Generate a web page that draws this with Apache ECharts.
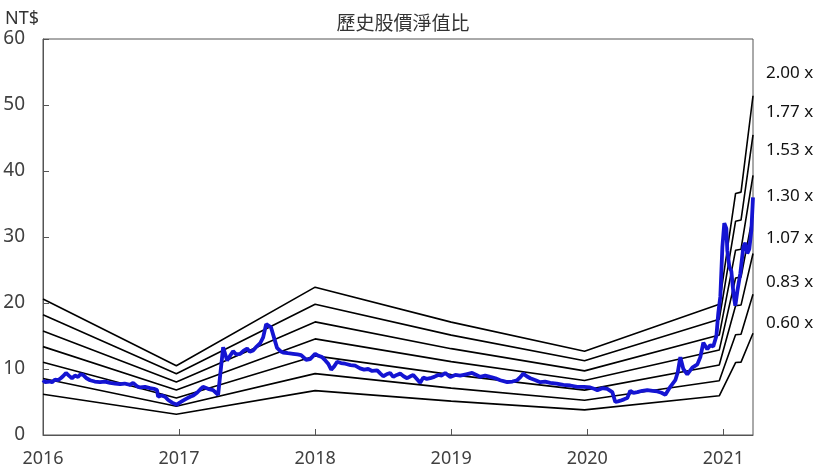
<!DOCTYPE html>
<html>
<head>
<meta charset="utf-8">
<style>
  html, body { margin: 0; padding: 0; background: #fff; }
  #chart { width: 820px; height: 476px; }
</style>
</head>
<body>
<div id="chart"></div>
<script src="https://cdn.jsdelivr.net/npm/echarts@6/dist/echarts.min.js"></script>
<script>
// book value per share knots (year, NT$)
var bvpsDates  = [2016.0, 2016.98, 2018.0, 2019.0, 2019.98, 2020.97, 2021.09, 2021.13, 2021.218];
var bvpsValues = [10.3,   5.25,    11.2,   8.55,   6.35,    9.9,     18.3,    18.4,    25.7];

// P/B multiples of the band lines
var multiples = [0.60, 0.83, 1.07, 1.30, 1.53, 1.77, 2.00];
var bandLabels = ['2.00 x', '1.77 x', '1.53 x', '1.30 x', '1.07 x', '0.83 x', '0.60 x'];

// share price (year, NT$)
var priceDates = [
  2016.000, 2016.015, 2016.029, 2016.048, 2016.066, 2016.088, 2016.110, 2016.130, 2016.147, 2016.169,
  2016.190, 2016.213, 2016.235, 2016.257, 2016.275, 2016.294, 2016.320, 2016.346, 2016.380, 2016.419,
  2016.455, 2016.493, 2016.530, 2016.566, 2016.600, 2016.640, 2016.662, 2016.690, 2016.713, 2016.750,
  2016.787, 2016.815, 2016.838, 2016.846, 2016.870, 2016.897, 2016.920, 2016.949, 2016.985, 2017.005,
  2017.029, 2017.055, 2017.081, 2017.105, 2017.132, 2017.155, 2017.176, 2017.213, 2017.250, 2017.287,
  2017.324, 2017.353, 2017.375, 2017.397, 2017.420, 2017.449, 2017.475, 2017.500, 2017.520, 2017.544,
  2017.570, 2017.596, 2017.618, 2017.640, 2017.654, 2017.676, 2017.700, 2017.720, 2017.745, 2017.765,
  2017.800, 2017.838, 2017.870, 2017.897, 2017.934, 2017.963, 2018.000, 2018.025, 2018.051, 2018.075,
  2018.096, 2018.118, 2018.140, 2018.162, 2018.190, 2018.221, 2018.260, 2018.294, 2018.330, 2018.360,
  2018.390, 2018.419, 2018.456, 2018.480, 2018.500, 2018.525, 2018.551, 2018.574, 2018.600, 2018.625,
  2018.650, 2018.676, 2018.700, 2018.721, 2018.772, 2018.794, 2018.820, 2018.846, 2018.875, 2018.904,
  2018.930, 2018.956, 2018.993, 2019.030, 2019.066, 2019.110, 2019.154, 2019.185, 2019.213, 2019.250,
  2019.287, 2019.325, 2019.360, 2019.412, 2019.450, 2019.485, 2019.510, 2019.529, 2019.555, 2019.581,
  2019.620, 2019.654, 2019.690, 2019.728, 2019.775, 2019.824, 2019.875, 2019.926, 2019.975, 2020.022,
  2020.050, 2020.074, 2020.110, 2020.147, 2020.184, 2020.206, 2020.225, 2020.243, 2020.270, 2020.294,
  2020.316, 2020.340, 2020.368, 2020.405, 2020.441, 2020.480, 2020.515, 2020.545, 2020.574, 2020.610,
  2020.647, 2020.665, 2020.684, 2020.706, 2020.735, 2020.772, 2020.809, 2020.831, 2020.853, 2020.882,
  2020.904, 2020.926, 2020.949, 2020.963, 2020.978, 2020.993, 2021.007, 2021.022, 2021.029, 2021.044,
  2021.059, 2021.074, 2021.088, 2021.103, 2021.125, 2021.147, 2021.162, 2021.176, 2021.191, 2021.206,
  2021.218
];
var priceValues = [
  8.3, 8.0, 7.8, 8.1, 8.0, 8.4, 8.3, 8.6, 8.9, 9.4,
  9.0, 8.6, 9.0, 8.8, 9.2, 9.1, 8.6, 8.3, 8.1, 8.0,
  8.1, 7.9, 7.8, 7.7, 7.8, 7.6, 7.9, 7.4, 7.2, 7.3,
  7.1, 7.0, 6.8, 5.8, 6.0, 5.8, 5.3, 4.9, 4.6, 4.9,
  5.2, 5.5, 5.8, 6.0, 6.4, 6.9, 7.3, 7.0, 6.8, 6.1,
  13.3, 11.3, 12.0, 12.7, 12.2, 12.3, 12.8, 13.1, 12.6, 12.8,
  13.4, 13.9, 14.8, 16.8, 17.0, 16.3, 14.6, 13.2, 12.7, 12.5,
  12.4, 12.3, 12.2, 12.1, 11.4, 11.5, 12.3, 12.0, 11.8, 11.3,
  10.8, 9.9, 10.4, 11.1, 10.9, 10.8, 10.6, 10.5, 10.1, 9.9,
  10.0, 9.7, 9.8, 9.3, 8.9, 9.2, 9.4, 8.8, 9.1, 9.3,
  8.9, 8.6, 8.9, 9.1, 7.9, 8.7, 8.5, 8.6, 8.8, 9.1,
  9.0, 9.4, 8.8, 9.1, 9.0, 9.2, 9.4, 9.1, 8.8, 9.0,
  8.8, 8.6, 8.3, 8.0, 8.1, 8.3, 8.8, 9.3, 8.9, 8.6,
  8.3, 8.0, 8.1, 7.9, 7.8, 7.6, 7.5, 7.3, 7.3, 7.2,
  7.0, 6.8, 7.1, 7.0, 6.5, 5.0, 5.1, 5.2, 5.4, 5.6,
  6.7, 6.4, 6.5, 6.7, 6.8, 6.7, 6.6, 6.4, 6.1, 7.3,
  8.3, 9.5, 11.8, 10.0, 9.2, 10.2, 10.7, 11.8, 14.0, 13.0,
  13.6, 13.4, 15.0, 18.5, 21.0, 28.5, 32.1, 31.3, 28.0, 25.5,
  24.8, 21.5, 19.6, 21.8, 24.5, 28.5, 29.1, 27.5, 28.2, 31.0,
  36.0
];

var xTicks = [2016, 2017, 2018, 2019, 2020, 2021];

var chart = echarts.init(document.getElementById('chart'));

var series = [];
multiples.forEach(function (m) {
  series.push({
    name: m.toFixed(2) + ' x',
    type: 'line',
    data: bvpsDates.map(function (d, i) { return [d, m * bvpsValues[i]]; }),
    symbol: 'none',
    lineStyle: { color: '#000', width: 1.6 },
    z: 2
  });
});
series.push({
  name: '股價',
  type: 'line',
  data: priceDates.map(function (d, i) { return [d, priceValues[i]]; }),
  symbol: 'none',
  lineStyle: { color: '#1414d2', width: 3.8 },
  z: 3
});

var labelFont = '"Noto Sans", "Open Sans", sans-serif';
var graphics = [{
  type: 'text', left: 5, top: 10,
  style: { text: 'NT$', fill: '#333', font: '18px ' + labelFont }
}];
var labelY = [76, 115, 153, 199, 241, 285, 326];
bandLabels.forEach(function (t, i) {
  graphics.push({
    type: 'text', left: 766, top: labelY[i] - 11,
    style: { text: t, fill: '#111', font: '17px ' + labelFont }
  });
});

chart.setOption({
  animation: false,
  backgroundColor: '#fff',
  title: {
    text: '歷史股價淨值比',
    left: 398, top: 8, textAlign: 'center',
    textStyle: { fontFamily: '"Noto Sans CJK TC", sans-serif', fontSize: 19, fontWeight: 'normal', color: '#333' }
  },
  grid: {
    left: 43, right: 67, top: 39, bottom: 41,
    show: true, borderColor: '#555', borderWidth: 1, backgroundColor: 'transparent'
  },
  xAxis: {
    type: 'value',
    min: 2016, max: 2021.218, interval: 1,
    axisLine: { lineStyle: { color: '#555', width: 1 } },
    axisTick: { inside: true, length: 6, lineStyle: { color: '#555' } },
    splitLine: { show: false },
    axisLabel: {
      color: '#404040', fontSize: 18, fontFamily: labelFont, margin: 15,
      showMaxLabel: false,
      formatter: function (v) { return xTicks.indexOf(v) >= 0 ? String(v) : ''; }
    }
  },
  yAxis: {
    type: 'value',
    min: 0, max: 60, interval: 10,
    axisLine: { show: true, lineStyle: { color: '#555', width: 1 } },
    axisTick: { show: true, inside: true, length: 6, lineStyle: { color: '#555' } },
    splitLine: { show: false },
    axisLabel: { color: '#404040', fontSize: 19, fontFamily: labelFont, margin: 18 }
  },
  graphic: graphics,
  series: series
});
</script>
</body>
</html>
